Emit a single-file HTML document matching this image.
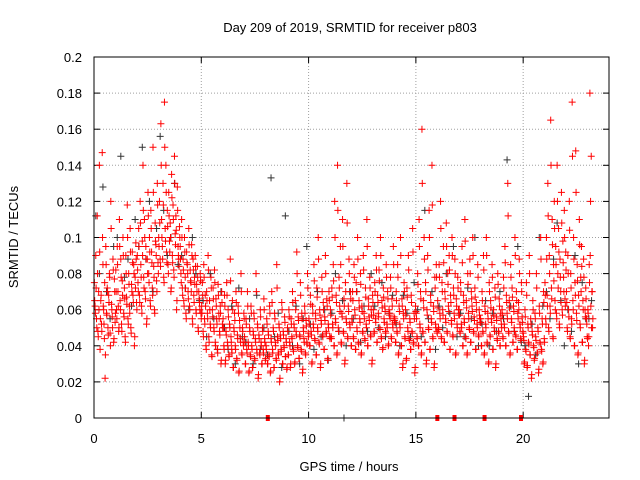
<!DOCTYPE html>
<html><head><meta charset="utf-8"><style>
html,body{margin:0;padding:0;background:#fff;}
svg{display:block;font-family:"Liberation Sans",Arial,sans-serif;}
</style></head><body>
<svg id="chart" width="640" height="480" viewBox="0 0 640 480">
<text x="350" y="32" text-anchor="middle" font-size="13">Day 209 of 2019, SRMTID for receiver p803</text>
<text x="349" y="471" text-anchor="middle" font-size="13">GPS time / hours</text>
<text transform="translate(18,237) rotate(-90)" text-anchor="middle" font-size="13">SRMTID / TECUs</text>
<g id="grid"></g>
<g id="ticks"></g>
<g id="black"></g>
<g id="red"></g>
<rect x="94" y="57" width="515" height="361" fill="none" stroke="#000" stroke-width="1"/>
</svg>
<script>
const xTicks=[0,5,10,15,20];
const yTicks=[0,0.02,0.04,0.06,0.08,0.1,0.12,0.14,0.16,0.18,0.2];
const yTickLabels=["0","0.02","0.04","0.06","0.08","0.1","0.12","0.14","0.16","0.18","0.2"];
// red values (thousandths of TECU) per hour
const redHours=[
[75,62,90,55,112,48,70,140,38,65,52,147,85,60,44,22,95,58,72,50,68,80,47,120,63,56,88,42,77,53],
[82,60,95,70,48,110,65,88,52,76,100,58,72,45,90,67,118,55,80,62,105,50,74,92,68,85,40,78,97,64],
[90,75,105,68,120,85,62,98,140,78,110,70,95,52,88,125,80,100,65,115,92,72,150,84,60,108,96,76,130,86],
[100,120,88,163,110,95,130,78,175,105,140,92,115,85,125,98,108,70,135,90,118,82,145,102,112,60,128,95,88,106],
[95,80,110,72,88,65,100,78,58,92,85,70,105,62,82,75,96,55,88,68,78,90,60,74,84,50,70,64,80,58],
[62,75,48,85,55,68,40,70,58,90,45,65,52,78,35,60,72,50,82,42,66,55,38,74,58,48,62,30,70,52],
[55,40,68,30,48,75,42,60,35,52,88,45,38,65,28,50,58,40,70,33,46,62,25,54,44,80,36,50,42,58],
[45,30,55,38,70,42,25,50,35,62,40,28,48,58,33,44,80,38,52,22,46,36,60,42,30,50,38,66,44,32],
[40,55,30,48,35,62,25,44,70,38,50,28,58,42,33,85,45,36,52,20,46,38,64,30,48,40,56,34,44,27],
[50,35,60,42,28,55,45,70,38,52,30,65,48,92,40,56,33,46,75,38,58,25,50,44,62,36,54,42,80,47],
[55,40,68,48,30,62,52,85,44,58,35,72,50,100,42,60,28,54,78,46,64,38,56,90,48,66,32,52,70,45],
[60,45,72,52,85,40,120,55,68,35,140,50,78,62,95,42,58,110,48,66,30,75,55,130,45,62,88,52,70,40],
[55,70,45,85,60,38,75,50,100,42,65,55,80,35,62,48,90,58,44,72,52,110,40,66,56,78,46,60,30,68],
[60,48,75,55,90,42,68,58,82,50,100,45,65,38,72,55,62,48,85,52,70,40,60,58,78,45,66,52,95,56],
[55,42,70,48,85,35,62,52,100,40,66,28,58,75,45,60,32,72,50,90,44,55,38,68,48,105,42,58,25,62],
[58,45,80,40,110,52,70,35,160,48,65,100,42,75,30,60,90,50,115,38,68,55,140,45,62,28,78,52,85,48],
[65,50,85,58,120,45,75,60,95,42,70,55,108,48,80,62,90,38,68,54,100,46,72,58,88,35,66,52,78,60],
[60,48,75,52,95,40,68,55,110,45,65,35,80,58,50,88,42,70,62,100,48,56,72,38,64,52,85,46,60,55],
[55,40,70,48,90,35,62,52,100,42,58,30,75,46,65,55,85,38,60,50,72,28,56,44,80,48,66,40,58,52],
[60,45,78,52,95,40,68,58,130,48,65,35,85,55,72,42,62,50,100,46,70,38,58,64,88,52,44,75,56,48],
[45,30,60,38,75,28,52,42,90,35,55,22,48,65,40,32,58,45,80,36,50,25,62,42,100,38,55,30,70,44],
[75,55,100,68,130,50,90,62,165,72,110,45,85,120,65,95,58,140,80,105,52,88,70,125,60,98,78,115,66,92],
[70,50,90,60,120,45,80,55,175,65,100,40,75,148,58,85,35,68,110,52,78,95,42,65,88,30,60,72,55,45],
[60,40,85,180,120,145,70,50]
];
const redHours2=[
[65,58,72,50,80,45,60,92,55,68,48,100,62,52,75,35,85,57,70,46,64,78,40,105,60,50,82,44,70,58],
[70,55,85,62,50,95,60,78,48,68,90,56,66,42,80,63,100,52,74,58,92,47,70,86,64,80,45,72,88,60],
[82,70,95,64,108,78,58,90,115,72,100,66,88,55,80,112,75,92,62,105,86,68,125,78,58,98,90,70,118,80],
[95,108,84,140,100,88,118,75,150,98,125,86,106,80,112,92,100,72,122,86,110,78,130,96,104,65,115,90,84,100],
[88,75,100,68,82,62,92,72,55,86,80,66,96,60,76,70,90,52,82,64,74,84,58,70,78,48,66,60,76,55],
[58,68,45,78,52,62,38,65,55,82,42,60,50,72,34,56,66,48,75,40,62,52,36,68,55,46,58,32,64,50],
[50,38,62,32,46,68,40,56,34,50,76,42,36,60,28,48,54,38,64,32,44,58,26,50,42,70,35,48,40,55],
[42,30,52,36,62,40,26,48,34,58,38,28,46,55,32,42,70,36,50,24,44,35,56,40,30,48,36,60,42,33],
[38,52,30,46,34,58,26,42,64,36,48,28,55,40,32,72,43,35,50,22,44,37,60,30,46,39,53,34,42,28],
[48,35,56,40,30,52,44,64,37,50,31,60,46,80,39,54,33,45,68,37,55,27,48,42,58,35,51,41,72,45],
[52,40,63,46,31,58,50,76,43,55,35,67,48,88,41,57,30,52,70,45,60,38,54,80,47,62,33,50,65,44],
[57,44,67,50,76,40,100,53,64,36,115,48,72,59,85,41,56,95,47,62,32,70,53,108,44,59,80,50,66,40],
[53,65,44,78,57,38,70,48,88,41,61,53,74,36,59,47,82,55,43,67,50,95,40,62,54,72,45,57,32,64],
[57,47,70,53,82,42,64,56,76,49,90,44,61,39,67,53,59,47,78,50,66,41,57,55,72,44,62,50,85,54],
[53,42,65,47,78,36,59,50,90,40,62,30,55,70,44,57,33,67,48,82,43,53,38,64,47,92,41,55,28,59],
[55,44,74,40,95,50,66,36,130,47,61,88,42,70,32,57,82,49,100,38,64,53,118,44,59,30,72,50,78,47],
[61,49,78,55,105,44,70,57,86,42,66,53,95,47,74,59,82,38,64,52,90,45,68,55,80,36,62,50,72,57],
[57,47,70,50,86,40,64,53,98,44,61,36,74,55,49,80,42,66,59,90,47,54,67,38,60,50,78,45,57,53],
[53,40,65,47,82,36,59,50,90,41,55,31,70,45,61,53,78,38,57,48,67,30,54,43,74,47,62,40,55,50],
[57,44,72,50,86,40,64,55,112,47,61,36,78,53,67,42,59,48,90,45,65,38,55,60,80,50,43,70,53,47],
[43,31,56,37,68,29,50,41,80,35,52,24,46,60,39,33,55,43,72,36,48,27,58,41,88,37,52,31,64,42],
[68,52,88,62,112,48,80,58,140,66,96,44,76,105,60,85,55,120,72,92,50,78,64,108,57,86,70,100,62,82],
[64,48,80,56,104,44,72,52,145,60,88,40,68,125,54,76,36,62,96,50,70,84,42,60,78,32,56,66,52,44],
[58,45,75,90,62,50,70,55]
];
const blackHours=[
[112,80,128,70,55,95],[100,145,78,88,62,110],[95,150,88,120,70,105],[156,115,90,100,130,85],
[90,72,60,100,80,65],[65,45,80,55,38,70],[50,38,62,30,72,45],[42,55,30,68,38,50],
[35,133,45,58,28,112],[48,40,62,30,55,95],[52,38,70,45,60,32],[58,80,48,65,40,70],
[55,70,42,62,48,80],[62,50,75,45,58,68],[52,40,68,58,45,75],[60,45,115,55,70,38],
[62,50,80,58,95,45],[58,45,72,55,100,40],[52,65,40,58,48,70],[55,143,62,48,95,42],
[40,12,52,35,100,62],[70,55,88,108,65,40],[60,48,90,30,75,55],[55,65]
];
const redZeroTimes=[8.1,16.0,16.8,18.2,19.9];
const blackZeroTimes=[11.65];

const NS="http://www.w3.org/2000/svg";
const X0=94,X1=609,Y0=418,Y1=57,XMAX=24,YMAX=0.2;
function sx(t){return X0+t*(X1-X0)/XMAX;}
function sy(v){return Y0-v*(Y0-Y1)/YMAX;}
function el(tag,attrs,parent){const e=document.createElementNS(NS,tag);for(const k in attrs)e.setAttribute(k,attrs[k]);parent.appendChild(e);return e;}

const grid=document.getElementById('grid'),ticks=document.getElementById('ticks');
yTicks.forEach((v,i)=>{
  const y=sy(v);
  if(i>0&&i<yTicks.length-1){const g=el('line',{x1:X0,x2:X1,y1:y,y2:y,stroke:'#a0a0a0','stroke-dasharray':'1,2','stroke-width':1},grid);
  
  }
  el('line',{x1:X0,x2:X0+6,y1:y,y2:y,stroke:'#000'},ticks);
  el('line',{x1:X1-6,x2:X1,y1:y,y2:y,stroke:'#000'},ticks);
  const t=el('text',{x:82,y:y+5,'text-anchor':'end','font-size':13},ticks);
  t.textContent=yTickLabels[i];
  
  
});
xTicks.forEach(v=>{
  const x=sx(v);
  if(v>0){const g=el('line',{x1:x,x2:x,y1:Y0,y2:Y1,stroke:'#a0a0a0','stroke-dasharray':'1,2','stroke-width':1},grid);
  
  }
  el('line',{x1:x,x2:x,y1:Y0,y2:Y0-6,stroke:'#000'},ticks);
  el('line',{x1:x,x2:x,y1:Y1,y2:Y1+6,stroke:'#000'},ticks);
  const t=el('text',{x:x,y:443,'text-anchor':'middle','font-size':13},ticks);
  t.textContent=String(v);
  
  
});
function plus(parent,t,v,color){
  const x=sx(t),y=sy(v);
  const p=el('path',{d:`M${x-3.5},${y}h7M${x},${y-3.5}v7`,stroke:color,'stroke-width':1,fill:'none'},parent);
  
  
}
const black=document.getElementById('black'),red=document.getElementById('red');
blackHours.forEach((arr,h)=>{const n=arr.length,span=h===23?0.25:1;arr.forEach((v,i)=>plus(black,h+(i+0.5)*span/n,v/1000,'#333'));});
blackZeroTimes.forEach(t=>plus(black,t,0,'#333'));
redHours.forEach((arr,h)=>{const n=arr.length,span=h===23?0.25:1;arr.forEach((v,i)=>plus(red,h+(i+0.5)*span/n,v/1000,'#f00'));});
redHours2.forEach((arr,h)=>{const n=arr.length,span=h===23?0.25:1;arr.forEach((v,i)=>plus(red,h+(i+0.95)*span/n,v/1000,'#f00'));});
redZeroTimes.forEach(t=>{const s=el('rect',{x:sx(t)-2,y:Y0-3,width:4,height:6,fill:'#f00'},red);

});
</script>
</body></html>
